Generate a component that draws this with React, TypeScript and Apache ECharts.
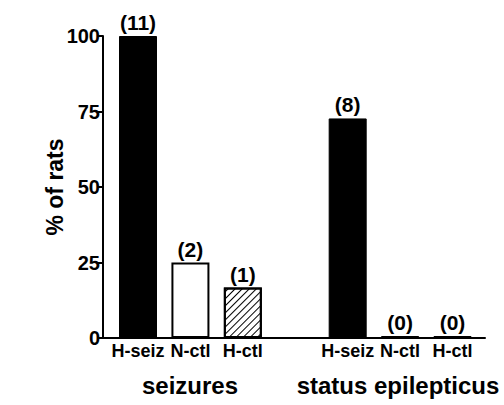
import React, { useEffect, useRef } from "react";
import * as echarts from "echarts";

const categories = ["H-seiz", "N-ctl", "H-ctl", "H-seiz", "N-ctl", "H-ctl"];
const groupIndex = [0, 0, 0, 1, 1, 1];
const percentValues = [100, 25, 16.7, 72.7, 0, 0];
const ratCounts = [11, 2, 1, 8, 0, 0];
const groupTitles = ["seizures", "status epilepticus"];
const yTicks = [0, 25, 50, 75, 100];

const FONT = "Liberation Sans, Arial, sans-serif";

export default function App() {
  const ref = useRef<HTMLDivElement>(null);
  useEffect(() => {
    if (!ref.current) return;
    const chart = echarts.init(ref.current, null, { renderer: "svg" });
    // position of each bar: index within group + 4 * group index (one empty slot between groups)
    const xPos = categories.map((_, i) => groupIndex[i] * 4 + (i - groupIndex[i] * 3) + 1);
    const styles = [
      { color: "#000", borderColor: "#000", borderWidth: 1 },
      { color: "#fff", borderColor: "#000", borderWidth: 2 },
      {
        color: "#fff",
        borderColor: "#000",
        borderWidth: 2,
        decal: {
          symbol: "rect",
          symbolSize: 1,
          dashArrayX: [1, 0],
          dashArrayY: [1, 4],
          rotation: -Math.PI / 4,
          color: "#000",
        },
      },
      { color: "#000", borderColor: "#000", borderWidth: 1 },
      { color: "#000", borderColor: "#000", borderWidth: 1 },
      { color: "#000", borderColor: "#000", borderWidth: 1 },
    ];
    chart.setOption({
      animation: false,
      aria: { enabled: false },
      grid: { left: 103, right: 19, top: 36, bottom: 67, containLabel: false },
      xAxis: {
        type: "value",
        min: 0.332,
        max: 7.62,
        axisLine: { show: true, onZero: false, lineStyle: { color: "#000", width: 2 } },
        axisTick: { show: false },
        axisLabel: { show: false },
        splitLine: { show: false },
      },
      yAxis: {
        type: "value",
        min: yTicks[0],
        max: yTicks[yTicks.length - 1],
        interval: 25,
        name: "% of rats",
        nameLocation: "middle",
        nameGap: 37,
        nameMoveOverlap: false,
        nameTextStyle: { fontFamily: FONT, fontWeight: "bold", fontSize: 23, color: "#000" },
        axisLine: { show: true, lineStyle: { color: "#000", width: 2 } },
        axisTick: { show: true, length: 6, lineStyle: { color: "#000", width: 2 } },
        axisLabel: { fontFamily: FONT, fontWeight: "bold", fontSize: 20, color: "#000", margin: 3 },
        splitLine: { show: false },
      },
      series: [
        {
          type: "bar",
          barWidth: 38,
          barGap: "-100%",
          barMinHeight: 2,
          data: percentValues.map((v, i) => ({
            value: [xPos[i], v],
            itemStyle: styles[i],
          })),
          label: {
            show: true,
            position: "top",
            distance: 3,
            fontFamily: FONT,
            fontWeight: "bold",
            fontSize: 21,
            color: "#000",
            formatter: (p: any) => "(" + ratCounts[p.dataIndex] + ")",
          },
        },
        {
          type: "bar",
          barWidth: 38,
          barGap: "-100%",
          silent: true,
          itemStyle: { color: "rgba(0,0,0,0)" },
          data: categories.map((c, i) => ({ value: [xPos[i], 0], name: c })),
          label: {
            show: true,
            position: "bottom",
            distance: 4,
            fontFamily: FONT,
            fontWeight: "bold",
            fontSize: 18,
            color: "#000",
            formatter: (p: any) => categories[p.dataIndex],
          },
        },
      ],
      graphic: [
        {
          type: "text",
          x: 190,
          y: 385,
          style: {
            text: groupTitles[0],
            fontFamily: FONT,
            fontWeight: "bold",
            fontSize: 24,
            fill: "#000",
            align: "center",
            verticalAlign: "middle",
          },
        },
        {
          type: "text",
          x: 398,
          y: 385,
          style: {
            text: groupTitles[1],
            fontFamily: FONT,
            fontWeight: "bold",
            fontSize: 24,
            fill: "#000",
            align: "center",
            verticalAlign: "middle",
          },
        },
      ],
    });
    return () => chart.dispose();
  }, []);
  return (
    <div
      ref={ref}
      style={{ position: "absolute", left: 0, top: 0, width: 504, height: 405, background: "#fff" }}
    />
  );
}
